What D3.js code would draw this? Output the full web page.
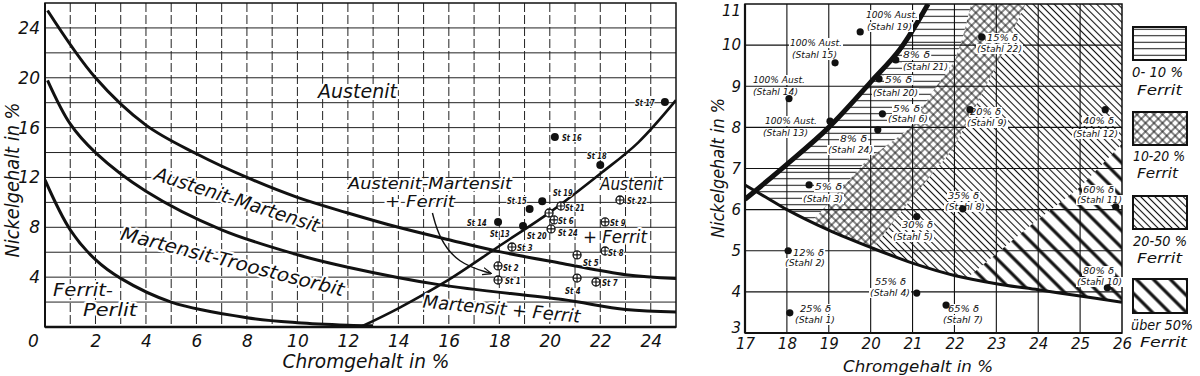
<!DOCTYPE html>
<html>
<head>
<meta charset="utf-8">
<script src="https://cdn.jsdelivr.net/npm/d3@7"></script>
<style>
  body { margin: 0; background: #fff; }
  svg text { font-family: "DejaVu Sans", "Liberation Sans", sans-serif; font-style: italic; fill: #111; }
</style>
</head>
<body>
<svg width="1200" height="376"></svg>
<script>
// ---- left diagram: phase boundaries, [Cr %, Ni %]
const austenitCurve = [[0.1,25.4],[2,20],[4,16.2],[6,13.9],[8,12],[10,10.4],[12,9.15],[14,8.0],[16,7.0],[18,6.05],[20.5,5.1],[23,4.2],[25,3.9]];
const martensitCurve = [[0.1,19.8],[1,16.3],[2,14],[4,10.9],[7,7.8],[10,5.8],[12,4.8],[15.6,3.4],[20.5,2.2],[23,1.4],[25,1.2]];
const perlitCurve = [[0,11.8],[1,7.8],[2,5.4],[3,3.9],[5,2.0],[8,0.75],[10,0.35],[12,0.15],[13,0.1]];
const ferritCurve = [[12.5,0],[14,1.5],[16,3.8],[18,6.5],[20,9.2],[22,12.3],[23.5,14.8],[25,18.2]];
const arrowCurve = [[15.35,9.15],[15.6,7.2],[16.35,5.1],[17.66,4.3]];

// ---- left diagram: steels
const leftSteel = ["St 17","St 16","St 18","St 15","St 19","St 14","St 13","St 21","St 20","St 6","St 24","St 3","St 2","St 1","St 5","St 4","St 7","St 8","St 9","St 22"];
const leftCr = [24.56,20.2,22.0,19.2,19.7,17.95,18.94,20.44,19.97,20.17,20.05,18.5,17.95,17.95,21.08,21.08,21.83,22.19,22.19,22.78];
const leftNi = [18.06,15.25,13.0,9.47,10.1,8.43,8.1,9.71,9.15,8.59,7.87,6.42,4.9,3.77,5.78,3.93,3.61,6.1,8.43,10.19];
const leftAustenitic = [true,true,true,true,true,true,true,false,false,false,false,false,false,false,false,false,false,false,false,false];

const leftXTicks = [0,2,4,6,8,10,12,14,16,18,20,22,24];
const leftYTicks = [4,8,12,16,20,24];

// ---- right diagram (detail)
const lowerCurve = [[17,6.6],[17.5,6.3],[18,6.0],[19,5.5],[20,5.08],[21,4.7],[22,4.4],[23,4.2],[24,4.05],[25,3.9],[26,3.75]];
const austLimit = [[17,6.25],[18,7.1],[19,8.0],[20,9.1],[20.7,9.9],[21.37,11]];
const zone0to10 = [[17.25,6.46],[18,7.1],[19,8.0],[20,9.1],[20.7,9.9],[21.37,11],[22.4,11],[22.2,10.2],[22.0,9.6],[21.5,8.9],[20.9,7.95],[19.9,7.2],[19.3,6.5],[18.6,5.72],[18,6.0],[17.5,6.3]];
const zone10to20 = [[18.6,5.72],[19.3,6.5],[19.9,7.2],[20.9,7.95],[21.5,8.9],[22.0,9.6],[22.2,10.2],[22.4,11],[23.7,11],[23.0,9.5],[22.5,8.5],[21.95,7.45],[21.0,6.3],[20.05,5.06],[19,5.5]];
const zone20to50 = [[20.05,5.06],[21.0,6.3],[21.95,7.45],[22.5,8.5],[23.0,9.5],[23.7,11],[26,11],[26,7.6],[25,6.55],[23.8,5.6],[22.3,4.34],[22,4.4],[21,4.7]];
const zoneOver50 = [[22.3,4.34],[23.8,5.6],[25,6.55],[26,7.6],[26,3.75],[25,3.9],[24,4.05],[23,4.2]];

const rightStahl = [19,15,14,13,21,20,6,24,22,9,3,2,1,4,5,8,7,12,11,10];
const rightCr = [19.75,19.15,18.05,19.03,20.6,20.2,20.28,20.17,22.65,22.37,18.53,18.03,18.07,21.1,21.1,22.2,21.8,25.6,25.85,25.65];
const rightNi = [10.32,9.57,8.7,8.15,9.64,9.18,8.33,7.94,10.2,8.43,6.6,5.0,3.49,3.97,5.83,6.02,3.68,8.43,6.07,4.1];
const rightFerrit = ["100% Aust.","100% Aust.","100% Aust.","100% Aust.","8% δ","5% δ","5% δ","8% δ","15% δ","20% δ","5% δ","12% δ","25% δ","55% δ","30% δ","35% δ","65% δ","40% δ","60% δ","80% δ"];

const rightXTicks = [17,18,19,20,21,22,23,24,25,26];
const rightYTicks = [3,4,5,6,7,8,9,10,11];

const legendText = [["0- 10 %","Ferrit"],["10-20 %","Ferrit"],["20-50 %","Ferrit"],["über 50%","Ferrit"]];

// ---- layout
const svg = d3.select("svg");
svg.append("rect").attr("width",1200).attr("height",376).attr("fill","#fff");

const xL = d3.scaleLinear().domain([0,25]).range([45,676]);
const yL = d3.scaleLinear().domain([0,26]).range([327,3]);
const xR = d3.scaleLinear().domain([17,26]).range([745,1122]);
const yR = d3.scaleLinear().domain([3,11]).range([333,4]);

const defs = svg.append("defs");
function hatch(id, size, angle, width, cross) {
  const p = defs.append("pattern").attr("id", id)
    .attr("patternUnits","userSpaceOnUse")
    .attr("width", size).attr("height", size)
    .attr("patternTransform", "rotate(" + angle + ")");
  p.append("line").attr("x1",-1).attr("x2",size+1).attr("y1",size/2).attr("y2",size/2)
    .attr("stroke","#111").attr("stroke-width",width);
  if (cross) p.append("line").attr("y1",-1).attr("y2",size+1).attr("x1",size/2).attr("x2",size/2)
    .attr("stroke","#111").attr("stroke-width",width);
}
hatch("p0", 6.5, 0, 1);
hatch("p1", 6, 45, 1, true);
hatch("p2", 5, 45, 1.1);
hatch("p3", 12, 45, 3.2);

defs.append("clipPath").attr("id","clipL").append("rect").attr("x",45).attr("y",3).attr("width",631).attr("height",324);
defs.append("clipPath").attr("id","clipR").append("rect").attr("x",745).attr("y",4).attr("width",377).attr("height",329);

defs.append("marker").attr("id","arr").attr("viewBox","0 0 10 10").attr("refX",9).attr("refY",5)
  .attr("markerWidth",9).attr("markerHeight",9).attr("markerUnits","userSpaceOnUse").attr("orient","auto")
  .append("path").attr("d","M0,1 L10,5 L0,9").attr("fill","none").attr("stroke","#111").attr("stroke-width",1.4);

function txt(g, s, x, y, size, len, rot, anchor) {
  const t = g.append("text").attr("x",x).attr("y",y).attr("font-size",size).text(s);
  if (len) t.attr("textLength",len).attr("lengthAdjust","spacingAndGlyphs");
  if (anchor) t.attr("text-anchor",anchor);
  if (rot) t.attr("transform","rotate(" + rot + "," + x + "," + y + ")");
  return t;
}

// ================= LEFT PANEL =================
const gL = svg.append("g");
const lineL = d3.line().x(d => xL(d[0])).y(d => yL(d[1])).curve(d3.curveCatmullRom);

gL.append("g").selectAll("line").data(d3.range(1,25)).join("line")
  .attr("x1", d => xL(d)).attr("x2", d => xL(d)).attr("y1", yL(26)).attr("y2", yL(0))
  .attr("stroke","#222").attr("stroke-width",1).attr("stroke-dasharray","9,3");
gL.append("g").selectAll("line").data(d3.range(2,26,2)).join("line")
  .attr("x1", xL(0)).attr("x2", xL(25)).attr("y1", d => yL(d)).attr("y2", d => yL(d))
  .attr("stroke","#222").attr("stroke-width",1);

const curvesL = gL.append("g").attr("clip-path","url(#clipL)");
[[austenitCurve,3],[martensitCurve,3],[perlitCurve,3],[ferritCurve,2.6]].forEach(([c,w]) => {
  curvesL.append("path").attr("d", lineL(c)).attr("fill","none").attr("stroke","#111").attr("stroke-width",w);
});
gL.append("path").attr("d", d3.line().x(d => xL(d[0])).y(d => yL(d[1])).curve(d3.curveBasis)(arrowCurve))
  .attr("fill","none").attr("stroke","#111").attr("stroke-width",1.4).attr("marker-end","url(#arr)");

// frame
gL.append("rect").attr("x",xL(0)).attr("y",yL(26)).attr("width",xL(25)-xL(0)).attr("height",yL(0)-yL(26))
  .attr("fill","none").attr("stroke","#111").attr("stroke-width",1.5);
gL.append("line").attr("x1",xL(0)).attr("x2",xL(0)).attr("y1",yL(26)).attr("y2",yL(0)).attr("stroke","#111").attr("stroke-width",2);
gL.append("line").attr("x1",xL(0)).attr("x2",xL(25)).attr("y1",yL(0)).attr("y2",yL(0)).attr("stroke","#111").attr("stroke-width",2.5);

// region labels
const regL = gL.append("g").attr("paint-order","stroke").attr("stroke","#fff").attr("stroke-width",4).attr("stroke-linejoin","round");
txt(regL,"Austenit",318,98,19,79);
txt(regL,"Austenit-Martensit",235,206,19,172,18,"middle");
txt(regL,"Martensit-Troostosorbit",231,268,19,230,14.3,"middle");
txt(regL,"Austenit-Martensit",348,189,15,164);
txt(regL,"+ Ferrit",385,207,15,70);
txt(regL,"Austenit",600,190,17,63);
txt(regL,"+ Ferrit",583,243,17,64);
txt(regL,"Martensit + Ferrit",501,315,18,158,5.5,"middle");
txt(regL,"Ferrit-",53,296,17,60);
txt(regL,"Perlit",83,316,17,54);

// steels
const leftLabelPos = [[635,106],[562,141],[587,159],[507,204],[553,196],[467,226],[490,237],[565,211],[527,239],[558,224],[558,236],[517,251],[503,271],[505,284],[583,266],[565,294],[602,286],[608,256],[610,226],[627,204]];
const ptsL = gL.append("g");
leftSteel.forEach((s,i) => {
  const cx = xL(leftCr[i]), cy = yL(leftNi[i]);
  if (leftAustenitic[i]) {
    ptsL.append("circle").attr("cx",cx).attr("cy",cy).attr("r",4).attr("fill","#111");
  } else {
    ptsL.append("circle").attr("cx",cx).attr("cy",cy).attr("r",4).attr("fill","#fff").attr("stroke","#111").attr("stroke-width",1.3);
    ptsL.append("path").attr("d","M"+(cx-4)+","+cy+"H"+(cx+4)+"M"+cx+","+(cy-4)+"V"+(cy+4)).attr("stroke","#111").attr("stroke-width",1.2);
  }
  const t = txt(ptsL, s, leftLabelPos[i][0], leftLabelPos[i][1], 9, s.length * 3.9);
  t.attr("font-weight","bold").attr("paint-order","stroke").attr("stroke","#fff").attr("stroke-width",2);
});

// axes
const axLX = gL.append("g").attr("transform","translate(0," + yL(0) + ")")
  .call(d3.axisBottom(xL).tickValues(leftXTicks).tickSize(0).tickPadding(8).tickFormat(d3.format("d")));
const axLY = gL.append("g").attr("transform","translate(" + xL(0) + ",0)")
  .call(d3.axisLeft(yL).tickValues(leftYTicks).tickSize(0).tickPadding(5).tickFormat(d3.format("d")));
[axLX, axLY].forEach(a => { a.select(".domain").remove(); a.attr("font-family",null); a.selectAll("text").attr("font-size",17).attr("fill","#111"); });
axLX.selectAll(".tick text").filter(d => d === 0).attr("x",-12);

txt(gL,"Chromgehalt in %",366,368,19,167,0,"middle");
txt(gL,"Nickelgehalt in %",19,180,19,155,-90,"middle");

// ================= RIGHT PANEL =================
const gR = svg.append("g");
const lineR = d3.line().x(d => xR(d[0])).y(d => yR(d[1]));

const zones = gR.append("g").attr("clip-path","url(#clipR)");
[[zone0to10,"p0"],[zone10to20,"p1"],[zone20to50,"p2"],[zoneOver50,"p3"]].forEach(([z,p]) => {
  zones.append("path").attr("d", lineR.curve(d3.curveLinearClosed)(z)).attr("fill","url(#" + p + ")");
});

gR.append("g").selectAll("line").data(d3.range(18,26)).join("line")
  .attr("x1", d => xR(d)).attr("x2", d => xR(d)).attr("y1", yR(11)).attr("y2", yR(3))
  .attr("stroke","#111").attr("stroke-width",1.1);
gR.append("g").selectAll("line").data(d3.range(4,11)).join("line")
  .attr("x1", xR(17)).attr("x2", xR(26)).attr("y1", d => yR(d)).attr("y2", d => yR(d))
  .attr("stroke","#111").attr("stroke-width",1.1);

const curvesR = gR.append("g").attr("clip-path","url(#clipR)");
curvesR.append("path").attr("d", lineR.curve(d3.curveCatmullRom)(lowerCurve)).attr("fill","none").attr("stroke","#111").attr("stroke-width",3);
curvesR.append("path").attr("d", lineR.curve(d3.curveCatmullRom)(austLimit)).attr("fill","none").attr("stroke","#111").attr("stroke-width",5);

gR.append("rect").attr("x",xR(17)).attr("y",yR(11)).attr("width",xR(26)-xR(17)).attr("height",yR(3)-yR(11))
  .attr("fill","none").attr("stroke","#111").attr("stroke-width",1.5);
gR.append("line").attr("x1",xR(17)).attr("x2",xR(17)).attr("y1",yR(11)).attr("y2",yR(3)).attr("stroke","#111").attr("stroke-width",2.2);
gR.append("line").attr("x1",xR(17)).attr("x2",xR(26)).attr("y1",yR(3)).attr("y2",yR(3)).attr("stroke","#111").attr("stroke-width",2.2);

// steels with labels
const rightLabelPos = [[866,18,867,30],[790,46,792,58],[753,83,753,95],[765,124,763,136],[903,58,903,70],[885,83,873,96],[893,112,888,122],[840,142,828,153],[987,41,977,52],[970,115,967,126],[815,190,803,202],[793,256,785,266],[800,312,795,323],[875,285,870,296],[902,228,893,240],[948,199,945,210],[948,312,943,323],[1083,124,1073,137],[1083,193,1077,203],[1083,274,1077,285]];
const labR = gR.append("g");
rightStahl.forEach((n,i) => {
  const p = rightLabelPos[i];
  const a = rightFerrit[i];
  const l1 = a.length > 6 ? 52 : (a.length > 4 ? 31 : 27);
  const s2 = "(Stahl " + n + ")";
  const l2 = n > 9 ? 45 : 40;
  const bg = labR.append("g");
  const t1 = txt(labR, a, p[0], p[1], 9.5, l1);
  const t2 = txt(labR, s2, p[2], p[3], 9.5, l2);
  [t1,t2].forEach(t => {
    const b = t.node().getBBox();
    bg.append("rect").attr("x",b.x-1).attr("y",b.y+1).attr("width",b.width+2).attr("height",b.height-1).attr("fill","#fff");
  });
  labR.append("circle").attr("cx",xR(rightCr[i])).attr("cy",yR(rightNi[i])).attr("r",3.6).attr("fill","#111");
});

const axRX = gR.append("g").attr("transform","translate(0," + yR(3) + ")")
  .call(d3.axisBottom(xR).tickValues(rightXTicks).tickSize(0).tickPadding(5).tickFormat(d3.format("d")));
const axRY = gR.append("g").attr("transform","translate(" + xR(17) + ",0)")
  .call(d3.axisLeft(yR).tickValues(rightYTicks).tickSize(0).tickPadding(4).tickFormat(d3.format("d")));
[axRX, axRY].forEach(a => { a.select(".domain").remove(); a.attr("font-family",null); a.selectAll("text").attr("font-size",15).attr("fill","#111"); });
axRY.selectAll(".tick text").filter(d => d === 11).attr("dy","0.75em");
axRY.selectAll(".tick text").filter(d => d === 3).attr("dy","-0.05em");

txt(gR,"Chromgehalt in %",918,372,16,150,0,"middle");
txt(gR,"Nickelgehalt in %",724,168,17,140,-90,"middle");

// legend
const legBox = [[1133,27,53,33],[1133,112,54,33],[1133,196,54,33],[1133,279,54,34]];
const legPat = ["p0","p1","p2","p3"];
const legPos = [[1132,77,51,1137,95,45],[1133,161,52,1137,178,41],[1133,246,54,1137,263,45],[1131,330,62,1140,347,47]];
const gLeg = svg.append("g");
legendText.forEach((lt,i) => {
  const b = legBox[i];
  gLeg.append("rect").attr("x",b[0]).attr("y",b[1]).attr("width",b[2]).attr("height",b[3])
    .attr("fill","url(#" + legPat[i] + ")").attr("stroke","#111").attr("stroke-width",2);
  const q = legPos[i];
  txt(gLeg, lt[0], q[0], q[1], 14, q[2]);
  txt(gLeg, lt[1], q[3], q[4], 14, q[5]);
});
</script>
</body>
</html>
